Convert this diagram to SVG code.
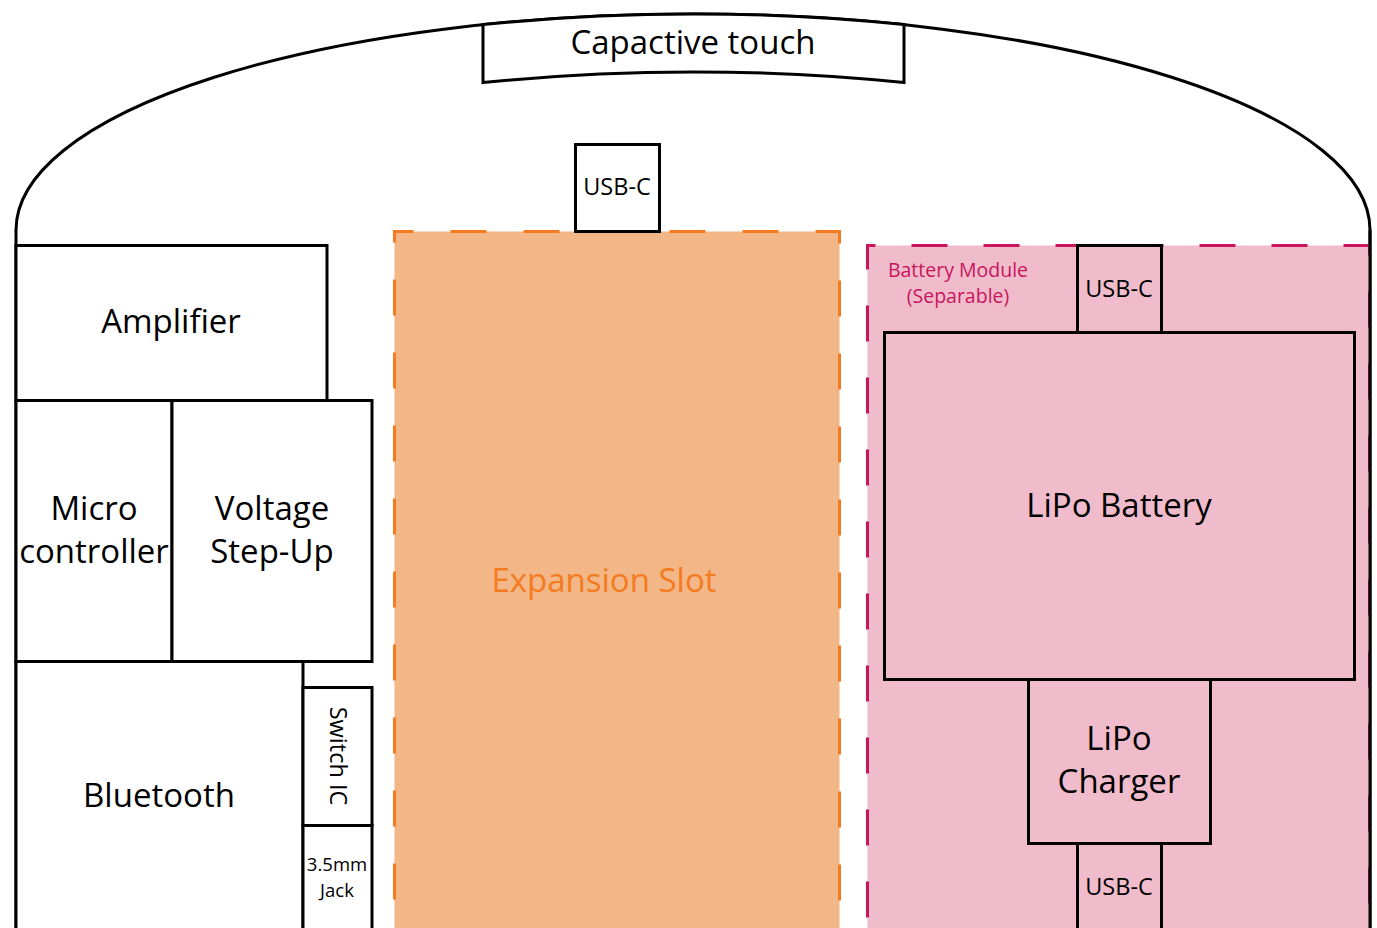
<svg xmlns="http://www.w3.org/2000/svg" width="1377" height="928" viewBox="0 0 1377 928">
<style>
.box{fill:#fff;stroke:#000;stroke-width:3}
.pbox{fill:#F0BCCB;stroke:#000;stroke-width:3}
.t{font-family:"Open Sans","Noto Sans",sans-serif;fill:#000;text-anchor:middle}
.big{font-size:33px}
.mid{font-size:23.5px}
.sm{font-size:19.5px}
.xs{font-size:18.5px}
</style>
<rect width="1377" height="928" fill="#fff"/>
<g id="outline">
<path d="M16,928 L16,230 A677,216 0 0 1 1370,230 L1370,928" fill="none" stroke="#000" stroke-width="3"/>
</g>
<g id="expansion-slot">
<rect x="394.5" y="231.5" width="445" height="720" fill="#F3B686" stroke="#F47B20" stroke-width="3" stroke-dasharray="36 37" stroke-dashoffset="17"/>
<text class="t big" x="604" y="592" style="fill:#F47B20">Expansion Slot</text>
</g>
<g id="battery-module">
<rect x="867.5" y="245.5" width="502" height="720" fill="#F0BCCB" stroke="#C8155C" stroke-width="3" stroke-dasharray="36 36" stroke-dashoffset="28"/>
<line x1="1370" y1="230" x2="1370" y2="928" stroke="#000" stroke-width="3"/>
<text class="t sm" x="958" y="277" style="fill:#C8155C">Battery Module</text>
<text class="t sm" x="958" y="303" style="fill:#C8155C">(Separable)</text>
</g>
<g id="capacitive-touch">
<path class="box" d="M483,24.6 L483,82.6 A677,216 0 0 1 904,82.6 L904,24.6 A677,216 0 0 0 483,24.6 Z"/>
<text class="t big" x="693" y="54">Capactive touch</text>
</g>
<g id="usbc-top">
<rect class="box" x="575.5" y="144.5" width="84" height="87"/>
<text class="t mid" x="617" y="195">USB-C</text>
</g>
<g id="amplifier">
<rect class="box" x="16" y="245.5" width="311" height="155"/>
<text class="t big" x="171" y="333">Amplifier</text>
</g>
<g id="microcontroller">
<rect class="box" x="16" y="400.5" width="156" height="261"/>
<text class="t big" x="94" y="520">Micro</text>
<text class="t big" x="94" y="563">controller</text>
</g>
<g id="voltage-stepup">
<rect class="box" x="172" y="400.5" width="200" height="261"/>
<text class="t big" x="272" y="520">Voltage</text>
<text class="t big" x="272" y="563">Step-Up</text>
</g>
<g id="bluetooth">
<rect class="box" x="16" y="661.5" width="287" height="300"/>
<text class="t big" x="159" y="807">Bluetooth</text>
</g>
<g id="switch-ic">
<rect class="box" x="303" y="687.5" width="69" height="138"/>
<text class="t mid" transform="translate(330,756) rotate(90)" x="0" y="0">Switch IC</text>
</g>
<g id="jack">
<rect class="box" x="303" y="825.5" width="69" height="130"/>
<text class="t xs" x="337" y="871">3.5mm</text>
<text class="t xs" x="337" y="897">Jack</text>
</g>
<g id="usbc-battery-top">
<rect class="pbox" x="1077.5" y="245.5" width="84" height="87"/>
<text class="t mid" x="1119" y="297">USB-C</text>
</g>
<g id="lipo-battery">
<rect class="pbox" x="884.5" y="332.5" width="470" height="347"/>
<text class="t big" x="1119" y="517">LiPo Battery</text>
</g>
<g id="lipo-charger">
<rect class="pbox" x="1028.5" y="679.5" width="182" height="164"/>
<text class="t big" x="1119" y="750">LiPo</text>
<text class="t big" x="1119" y="793">Charger</text>
</g>
<g id="usbc-battery-bottom">
<rect class="pbox" x="1077.5" y="843.5" width="84" height="120"/>
<text class="t mid" x="1119" y="895">USB-C</text>
</g>
<g id="connectors"></g>
</svg>
